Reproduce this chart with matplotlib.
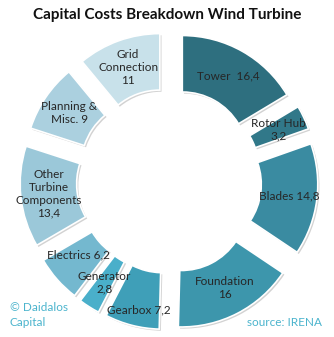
import matplotlib
matplotlib.use("Agg")
import matplotlib.pyplot as plt
import matplotlib.patheffects as pe
import numpy as np

# Capital cost shares of an onshore wind turbine (percent)
categories = ["Tower", "Rotor Hub", "Blades", "Foundation", "Gearbox",
              "Generator", "Electrics", "Other Turbine Components",
              "Planning & Misc.", "Grid Connection"]
values = [16.4, 3.2, 14.8, 16.0, 7.2, 2.8, 6.2, 13.4, 9.0, 11.0]
label_formats = ["Tower  {}", "Rotor Hub\n{}", "Blades {}", "Foundation\n{}",
                 "Gearbox {}", "Generator\n{}", "Electrics {}",
                 "Other\nTurbine\nComponents\n{}", "Planning &\nMisc. {}",
                 "Grid\nConnection\n{}"]
colors = ["#2e6f7f", "#317889", "#3a8ba1", "#3d96ac", "#3f9fb8",
          "#4aafca", "#74b8cf", "#9bc8d9", "#abd0df", "#c8e1ea"]
# extra nudges (pixels) for labels that sit off the ring centre line
label_nudge = {"Gearbox": (0, -12), "Electrics": (0, 6)}

W, H = 334, 337
fig = plt.figure(figsize=(W / 100, H / 100), dpi=100)
ax = fig.add_axes([0, 0, 1, 1])

cx, cy = 169, H - 181
radius, ring = 122, 56.5
wedges, _ = ax.pie(values, radius=radius, center=(cx, cy), startangle=90,
                   counterclock=False, explode=[27] * len(values),
                   colors=colors,
                   wedgeprops=dict(width=ring, edgecolor="white", linewidth=1.2))
for w in wedges:
    w.set_path_effects([pe.SimplePatchShadow(offset=(1.2, -1.2), alpha=0.35,
                                             shadow_rgbFace="#808080"),
                        pe.Normal()])

ax.set_xlim(0, W)
ax.set_ylim(0, H)
ax.set_aspect("equal")
ax.axis("off")

def fmt(v):
    return f"{v:g}".replace(".", ",")

for w, name, f, v in zip(wedges, categories, label_formats, values):
    tm = np.deg2rad((w.theta1 + w.theta2) / 2)
    rm = w.r - w.width / 2
    x = w.center[0] + rm * np.cos(tm)
    y = w.center[1] + rm * np.sin(tm)
    dx, dy = label_nudge.get(name, (0, 0))
    ax.text(x + dx, y + dy, f.format(fmt(v)), ha="center", va="center",
            fontsize=8.5, family="Lato", color="#262626", linespacing=1.2)

fig.text(0.5, 1 - 15 / H, "Capital Costs Breakdown Wind Turbine",
         ha="center", va="center", fontsize=11, fontweight="bold",
         family="Lato", color="#111111")
fig.text(10 / W, 1 - 315 / H, "© Daidalos\nCapital", ha="left", va="center",
         fontsize=8.5, family="Lato", color="#4bb4cd", linespacing=1.45)
fig.text(322 / W, 1 - 323 / H, "source: IRENA", ha="right", va="center",
         fontsize=8.5, family="Lato", color="#4bb4cd")

fig.savefig("out.png", dpi=100, facecolor="white")
